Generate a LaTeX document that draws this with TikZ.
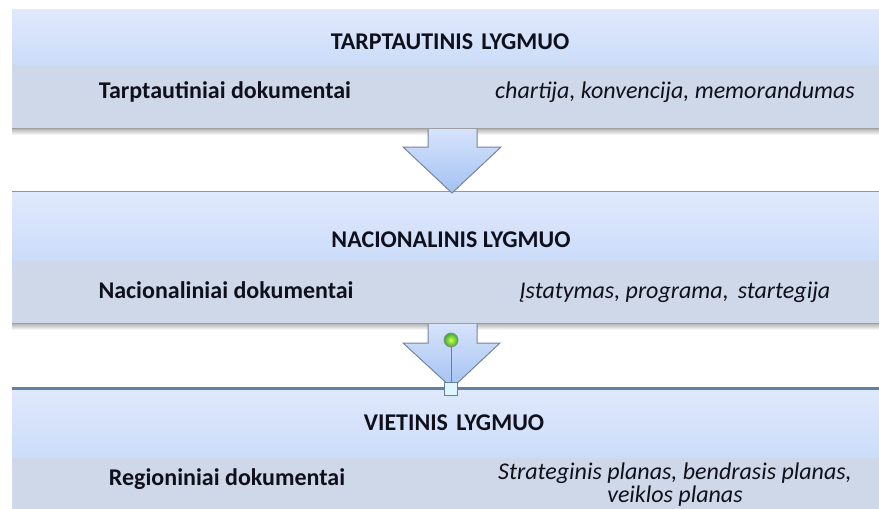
\documentclass[tikz,border=0pt]{standalone}
\usepackage{fontspec}
\setmainfont{Carlito}
\definecolor{hdtop}{RGB}{224,233,252}
\definecolor{hdbot}{RGB}{203,220,249}
\definecolor{lowband}{RGB}{207,216,232}
\definecolor{arrtop}{RGB}{214,227,251}
\definecolor{arrbot}{RGB}{164,194,243}
\definecolor{arredge}{RGB}{118,132,156}
\definecolor{txt}{RGB}{16,16,28}
\definecolor{selline}{RGB}{98,128,162}
\begin{document}
\begin{tikzpicture}[x=0.75pt,y=-0.75pt,
  header/.style={rectangle, anchor=north west, inner sep=0pt, minimum width=870*0.75pt, top color=hdtop, bottom color=hdbot, draw=none},
  lower/.style={rectangle, anchor=north west, inner sep=0pt, minimum width=870*0.75pt, fill=lowband, draw=none},
  title/.style={anchor=base, font=\fontsize{18pt}{21pt}\selectfont\bfseries, text=txt, inner sep=0pt},
  doc/.style={anchor=base, font=\fontsize{18pt}{21pt}\selectfont\bfseries, text=txt, inner sep=0pt},
  examples/.style={anchor=base, font=\fontsize{18pt}{17.25pt}\selectfont\itshape, text=txt, inner sep=0pt, align=center},
  blockarrow/.style={top color=arrtop, bottom color=arrbot, draw=arredge, line width=0.75pt, line join=miter},
  shadowband/.style={top color=black!32, bottom color=white, draw=none},
  handle/.style={circle, inner sep=0pt, minimum size=14*0.75pt, draw=black!45, line width=0.6pt, inner color=green!25!yellow!70!white, outer color=green!60!black!80},
  sqhandle/.style={rectangle, inner sep=0pt, minimum size=13*0.75pt, draw=selline, line width=0.75pt, fill=cyan!12}
]
\useasboundingbox (0,0) rectangle (879,508);
\fill[white] (0,0) rectangle (879,508);

% ---- level 1
\node[header, minimum height=56*0.75pt] (h1) at (12,9) {};
\node[lower, minimum height=63*0.75pt] (l1) at (12,65) {};
\path[shadowband] (12,128) rectangle (882,135);
\draw[black!38, line width=0.75pt] (12,128) -- (882,128);

% ---- level 2
\node[header, minimum height=70*0.75pt] (h2) at (12,191) {};
\node[lower, minimum height=62*0.75pt] (l2) at (12,261) {};
\path[shadowband] (12,323) rectangle (882,330);
\draw[black!38, line width=0.75pt] (12,323) -- (882,323);
\draw[black!42, line width=1pt] (12,191.5) -- (882,191.5);

% ---- level 3
\node[header, minimum height=70*0.75pt] (h3) at (12,388) {};
\node[lower, minimum height=55*0.75pt] (l3) at (12,458) {};
\draw[selline, line width=1.6pt] (12,388.5) -- (882,388.5);

% ---- arrows
\coordinate (a1t) at (452,193);
\path[blockarrow] (428,129) -- (428,147) -- (403,147) -- (a1t) -- (501,147) -- (477,147) -- (477,129);
\coordinate (a2t) at (452,388);
\path[blockarrow] (428,324) -- (428,343) -- (403,343) -- (a2t) -- (500,343) -- (477,343) -- (477,324);

% selection handles
\node[handle] (gh) at (451,340) {};
\node[sqhandle] (sq) at (451,389) {};
\draw[selline, line width=0.75pt] (gh) -- (sq);

% ---- texts
\node[title] (t1) at (450,49) {TARPTAUTINIS\hspace{0.12em} LYGMUO};
\node[doc] (d1) at (225,98) {Tarptautiniai dokumentai};
\node[examples] (e1) at (675,98) {chartija, konvencija, memorandumas};

\node[title] (t2) at (451,247) {NACIONALINIS LYGMUO};
\node[doc] (d2) at (226,298) {Nacionaliniai dokumentai};
\node[examples] (e2) at (675,298) {Įstatymas, programa,\hspace{0.15em} startegija};

\node[title] (t3) at (454,430) {VIETINIS\hspace{0.12em} LYGMUO};
\node[doc] (d3) at (227,485) {Regioniniai dokumentai};
\node[examples, anchor=north] (e3) at (675,463) {Strateginis planas, bendrasis planas,\\veiklos planas};
\end{tikzpicture}
\end{document}
